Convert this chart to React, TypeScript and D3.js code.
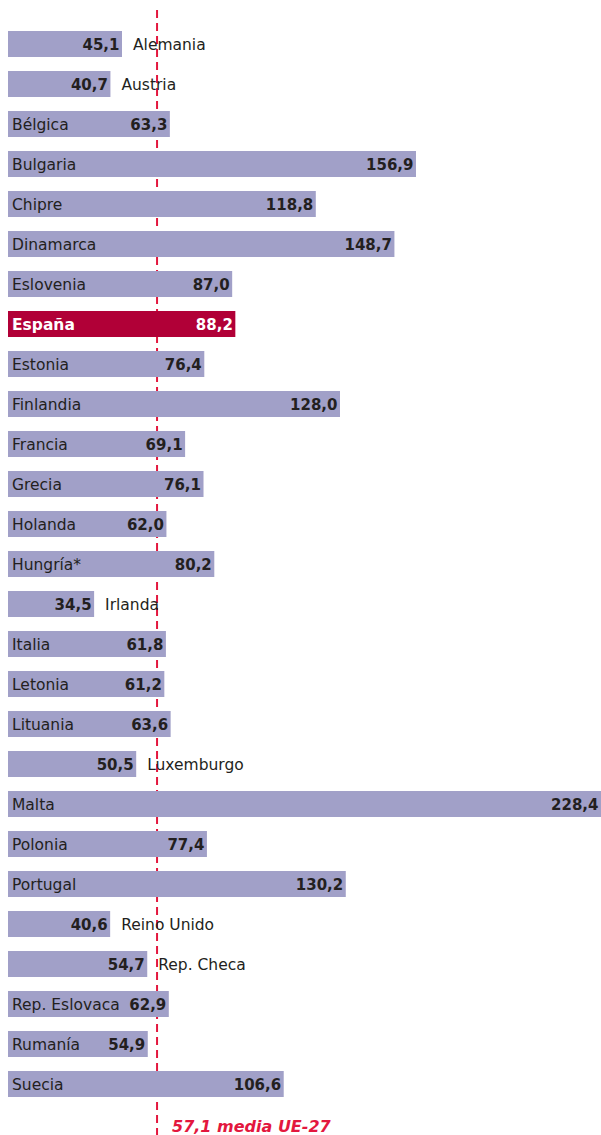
import React from "react";
import * as d3 from "d3";

const countries = ["Alemania","Austria","Bélgica","Bulgaria","Chipre","Dinamarca","Eslovenia","España","Estonia","Finlandia","Francia","Grecia","Holanda","Hungría*","Irlanda","Italia","Letonia","Lituania","Luxemburgo","Malta","Polonia","Portugal","Reino Unido","Rep. Checa","Rep. Eslovaca","Rumanía","Suecia"];
const values = [45.1,40.7,63.3,156.9,118.8,148.7,87.0,88.2,76.4,128.0,69.1,76.1,62.0,80.2,34.5,61.8,61.2,63.6,50.5,228.4,77.4,130.2,40.6,54.7,62.9,54.9,106.6];
const nameOutside = ["Alemania","Austria","Irlanda","Luxemburgo","Reino Unido","Rep. Checa"];
const highlight = "España";
const average = 57.1;
const averageLabel = "57,1 media UE-27";

const W = 601, H = 1135;
const fmt = (v: number) => v.toFixed(1).replace(".", ",");

export default function App() {
  const x = d3.scaleLinear().domain([0, 228.4]).range([3.4, 604]);
  const y = d3.scaleBand<string>().domain(countries).range([24, 24 + 27 * 40]).paddingInner(0.35).paddingOuter(0.175);
  const bw = y.bandwidth();
  const avgX = x(average) + 3.5;
  const font = "'DejaVu Sans', Verdana, sans-serif";
  return (
    <svg width={W} height={H} style={{ position: "absolute", left: 0, top: 0 }} fontFamily={font}>
      <line x1={avgX} x2={avgX} y1={10} y2={H} stroke="#e3173e" strokeWidth={2} strokeDasharray="8,5" />
      {countries.map((c, i) => {
        const v = values[i];
        const y0 = y(c)!;
        const x1 = Math.min(x(v), W);
        const hi = c === highlight;
        const out = nameOutside.includes(c);
        const tc = hi ? "#ffffff" : "#231f20";
        return (
          <g key={c}>
            <rect x={8} y={y0} width={x1 - 8} height={bw} fill={hi ? "#b10037" : "#a1a0c8"} />
            <text x={x1 - 2.5} y={y0 + bw / 2 + 5.5} textAnchor="end" fontWeight="bold" fontSize={15} fill={tc}>{fmt(v)}</text>
            <text x={out ? x1 + 11 : 12} y={y0 + bw / 2 + 5.5} fontSize={15.5} fontWeight={hi ? "bold" : "normal"} fill={tc}>{c}</text>
          </g>
        );
      })}
      <text x={172} y={1132} fontSize={16} fontWeight="bold" fontStyle="italic" fill="#e3173e">{averageLabel}</text>
    </svg>
  );
}
